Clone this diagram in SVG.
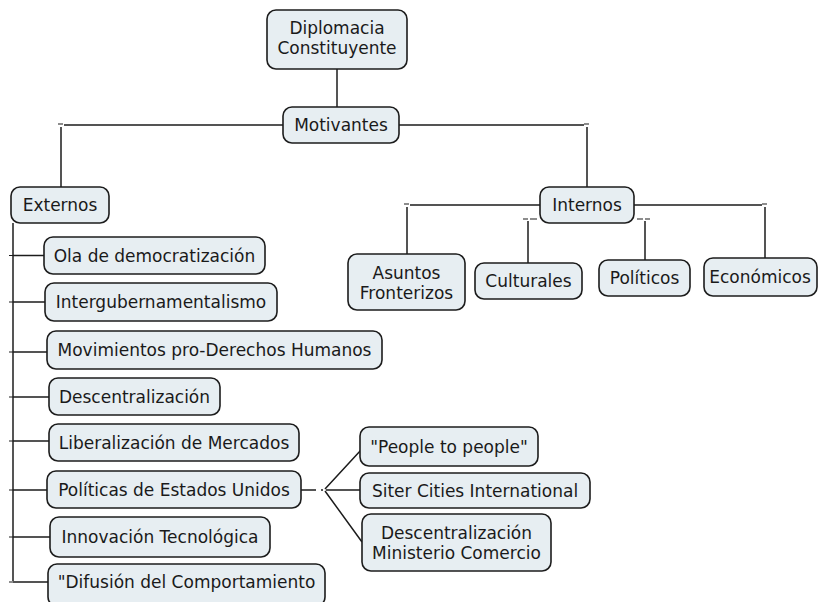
<svg xmlns="http://www.w3.org/2000/svg" width="818" height="602" viewBox="0 0 818 602">
  <style>
    .box { fill: #e7eef2; stroke: #1c1c1c; stroke-width: 1.6; }
    .lbl { font-family: "DejaVu Sans", Verdana, sans-serif; font-size: 17px; fill: #1a1a1a; text-anchor: middle; }
    .ln { fill: none; stroke: #1c1c1c; stroke-width: 1.5; }
    .tk { fill: none; stroke: #1c1c1c; stroke-width: 1.2; }
  </style>
  <rect width="818" height="602" fill="#ffffff"/>

  <!-- connectors -->
  <g id="connectors">
    <!-- root to Motivantes -->
    <path class="ln" d="M337,69 V107"/>
    <!-- Motivantes to Externos / Internos -->
    <path class="ln" d="M283,125 H64 M61,127 V187"/>
    <path class="ln" d="M399,125 H584 M587,127 V187"/>
    <path class="tk" d="M58,124 H63 M584,124 H589"/>
    <!-- Internos to its children -->
    <path class="ln" d="M540,205 H410 M407,207 V254"/>
    <path class="ln" d="M634,205 H762 M765,207 V258"/>
    <path class="ln" d="M528,221 V263"/>
    <path class="ln" d="M645,221 V260"/>
    <path class="tk" d="M404,204 H409 M762,204 H767 M523,219 H528 M530,219 H537 M637,219 H643 M645,219 H650"/>
    <!-- Externos trunk -->
    <path class="ln" d="M13,223 V581"/>
    <path class="ln" d="M13,255.5 H44 M13,302 H45 M13,352 H47 M13,397 H49 M13,441 H49 M13,490 H47 M13,537 H50 M13,582 H48"/>
    <path class="tk" d="M9,255.5 H13 M9,302 H13 M9,352 H13 M9,397 H13 M9,441 H13 M9,490 H13 M9,537 H13 M9,582 H13"/>
    <!-- Políticas de Estados Unidos fan-out -->
    <path class="ln" d="M301,490 H316"/>
    <circle cx="322" cy="490" r="1" fill="#1c1c1c"/>
    <path class="ln" d="M325,489 L361,450 M326,490 H360 M325,491 L362,542"/>
  </g>

  <g id="diplomacia">
    <rect class="box" x="267" y="10" width="140" height="59" rx="9"/>
    <text class="lbl" x="337" y="34">Diplomacia</text>
    <text class="lbl" x="337" y="54">Constituyente</text>
  </g>
  <g id="motivantes">
    <rect class="box" x="283" y="107" width="116" height="36" rx="9"/>
    <text class="lbl" x="341" y="131">Motivantes</text>
  </g>
  <g id="externos">
    <rect class="box" x="11" y="187" width="98" height="36" rx="9"/>
    <text class="lbl" x="60" y="211">Externos</text>
  </g>
  <g id="internos">
    <rect class="box" x="540" y="187" width="94" height="36" rx="9"/>
    <text class="lbl" x="587" y="211">Internos</text>
  </g>
  <g id="asuntos">
    <rect class="box" x="348" y="254" width="117" height="56" rx="9"/>
    <text class="lbl" x="406.5" y="279">Asuntos</text>
    <text class="lbl" x="406.5" y="299">Fronterizos</text>
  </g>
  <g id="culturales">
    <rect class="box" x="475" y="263" width="107" height="36" rx="9"/>
    <text class="lbl" x="528.5" y="287">Culturales</text>
  </g>
  <g id="politicos">
    <rect class="box" x="599" y="260" width="91" height="36" rx="9"/>
    <text class="lbl" x="644.5" y="284">Políticos</text>
  </g>
  <g id="economicos">
    <rect class="box" x="704" y="258" width="113" height="38" rx="9"/>
    <text class="lbl" x="760" y="283">Económicos</text>
  </g>

  <g id="ola">
    <rect class="box" x="44" y="237" width="221" height="37" rx="9"/>
    <text class="lbl" x="154.5" y="261.5">Ola de democratización</text>
  </g>
  <g id="intergub">
    <rect class="box" x="45" y="283" width="232" height="38" rx="9"/>
    <text class="lbl" x="161" y="308">Intergubernamentalismo</text>
  </g>
  <g id="movimientos">
    <rect class="box" x="47" y="331" width="335" height="38" rx="9"/>
    <text class="lbl" x="214.5" y="356">Movimientos pro-Derechos Humanos</text>
  </g>
  <g id="descentralizacion">
    <rect class="box" x="49" y="378" width="171" height="37" rx="9"/>
    <text class="lbl" x="134.5" y="402.5">Descentralización</text>
  </g>
  <g id="liberalizacion">
    <rect class="box" x="49" y="424" width="250" height="37" rx="9"/>
    <text class="lbl" x="174" y="448.5">Liberalización de Mercados</text>
  </g>
  <g id="politicas-eeuu">
    <rect class="box" x="47" y="471" width="254" height="37" rx="9"/>
    <text class="lbl" x="174" y="495.5">Políticas de Estados Unidos</text>
  </g>
  <g id="innovacion">
    <rect class="box" x="50" y="517" width="220" height="40" rx="9"/>
    <text class="lbl" x="160" y="543">Innovación Tecnológica</text>
  </g>
  <g id="difusion">
    <rect class="box" x="48" y="564" width="277" height="42" rx="9"/>
    <text class="lbl" x="186.5" y="588">"Difusión del Comportamiento</text>
  </g>

  <g id="people">
    <rect class="box" x="360" y="427" width="178" height="39" rx="9"/>
    <text class="lbl" x="449" y="452.5">"People to people"</text>
  </g>
  <g id="siter">
    <rect class="box" x="360" y="473" width="230" height="35" rx="9"/>
    <text class="lbl" x="475" y="496.5">Siter Cities International</text>
  </g>
  <g id="ministerio">
    <rect class="box" x="362" y="514" width="189" height="57" rx="9"/>
    <text class="lbl" x="456.5" y="539">Descentralización</text>
    <text class="lbl" x="456.5" y="559">Ministerio Comercio</text>
  </g>
</svg>
